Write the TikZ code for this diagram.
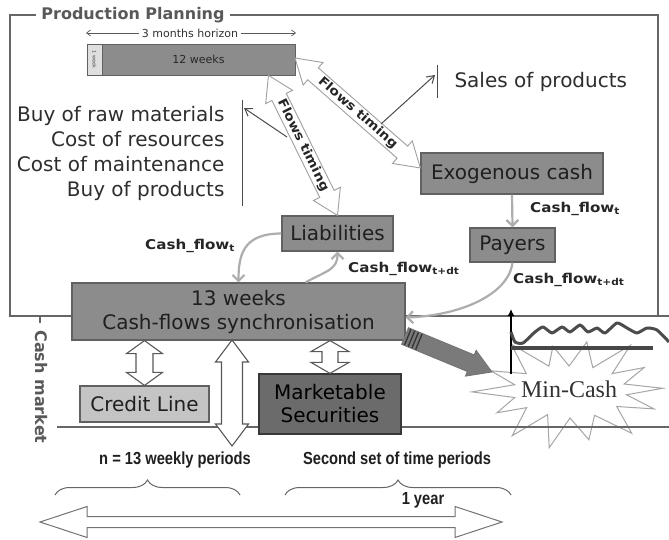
\documentclass[tikz,border=0pt]{standalone}
\usepackage{fontspec}
\setmainfont{DejaVu Sans}
\newfontfamily\mcfont{Liberation Serif}
\newfontfamily\narrowfont{Liberation Sans}[FakeStretch=0.84]
\newfontfamily\widefont{DejaVu Sans}[FakeStretch=1.12]
\usetikzlibrary{calc,decorations.pathreplacing,arrows.meta}

\definecolor{boxfill}{gray}{0.55}
\definecolor{boxline}{gray}{0.38}
\definecolor{credfill}{gray}{0.77}
\definecolor{mktfill}{gray}{0.42}
\definecolor{mktline}{gray}{0.22}
\definecolor{flowgray}{gray}{0.68}
\definecolor{framegray}{gray}{0.40}
\definecolor{titlegray}{gray}{0.35}

% hollow double-headed arrow between two points
\newcommand\hollowdbl[6][]{%
  \draw[#1] (#2)
   -- ($($(#2)!#6!(#3)$)!#5!90:(#3)$)
   -- ($($(#2)!#6!(#3)$)!#4!90:(#3)$)
   -- ($($(#3)!#6!(#2)$)!#4!-90:(#2)$)
   -- ($($(#3)!#6!(#2)$)!#5!-90:(#2)$)
   -- (#3)
   -- ($($(#3)!#6!(#2)$)!#5!90:(#2)$)
   -- ($($(#3)!#6!(#2)$)!#4!90:(#2)$)
   -- ($($(#2)!#6!(#3)$)!#4!-90:(#3)$)
   -- ($($(#2)!#6!(#3)$)!#5!-90:(#3)$)
   -- cycle;}
% filled single-headed arrow, tip at the second point
\newcommand\fatsingle[6][]{%
  \draw[#1] ($(#2)!#4!90:(#3)$)
   -- ($($(#3)!#6!(#2)$)!#4!-90:(#2)$)
   -- ($($(#3)!#6!(#2)$)!#5!-90:(#2)$)
   -- (#3)
   -- ($($(#3)!#6!(#2)$)!#5!90:(#2)$)
   -- ($($(#3)!#6!(#2)$)!#4!90:(#2)$)
   -- ($(#2)!#4!-90:(#3)$)
   -- cycle;}

\begin{document}
\begin{tikzpicture}[x=1pt,y=-1pt,
  frame/.style={draw=framegray,line width=1.3pt},
  box/.style={draw=boxline,fill=boxfill,line width=1.2pt,inner sep=0pt,
    text=black!88,align=center,font=\fontsize{20}{24}\selectfont},
  plain/.style={text=black!82,font=\fontsize{20}{25}\selectfont},
  cflbl/.style={anchor=west,inner sep=0pt,text=black!85,
    font=\widefont\bfseries\fontsize{13.5}{16}\selectfont},
  flowlbl/.style={inner sep=0pt,text=black!85,
    font=\widefont\bfseries\fontsize{12.5}{15}\selectfont},
  cfarrow/.style={draw=flowgray,line width=2.2pt,
    -{Straight Barb[length=6pt,width=12pt]}},
  thinarrow/.style={draw=black!70,line width=1pt,
    -{Straight Barb[length=7pt,width=9pt]}},
  flowfat/.style={draw=gray!75,fill=white,line width=0.9pt,line join=miter},
  vfat/.style={draw=black!65,fill=white,line width=1.1pt},
  bottomlbl/.style={text=black!88,font=\narrowfont\bfseries\fontsize{17.5}{20}\selectfont},
  burst/.style={draw=gray!70,fill=white,line width=1pt,line join=miter},
]
\useasboundingbox[fill=white] (0,0) rectangle (669,540);

% ---- frames of the two layers
\draw[frame] (10,15) rectangle (658,316);
\draw[frame] (658,316) -- (669,316);
\draw[frame] (40,316) -- (40,323);
\node[fill=white,inner xsep=5pt,inner ysep=1pt,text=titlegray,
  font=\bfseries\fontsize{16}{18}\selectfont] (title) at (133,15) {Production Planning};
\node[rotate=-90,text=titlegray,font=\bfseries\fontsize{16}{18}\selectfont]
  (cashmkt) at (41,387) {Cash market};

% ---- minimum cash burst and cash level sketch
\coordinate (mc) at (570,391);
\draw[burst,shift={(mc)}]
  (3:93pt and 52pt) -- (15:56pt and 27pt) -- (28:84pt and 50pt)
  -- (40:55pt and 27pt) -- (52:98pt and 58pt) -- (64:52pt and 26pt)
  -- (79:88pt and 50pt) -- (91:52pt and 25pt) -- (103:76pt and 46pt)
  -- (113:54pt and 27pt) -- (126:100pt and 58pt) -- (140:57pt and 27pt)
  -- (154:88pt and 46pt) -- (166:57pt and 26pt) -- (181:98pt and 52pt)
  -- (194:57pt and 27pt) -- (207:82pt and 48pt) -- (218:55pt and 27pt)
  -- (233:96pt and 56pt) -- (245:53pt and 26pt) -- (258:100pt and 58pt)
  -- (270:54pt and 27pt) -- (283:84pt and 50pt) -- (296:56pt and 27pt)
  -- (311:94pt and 56pt) -- (325:57pt and 27pt) -- (339:90pt and 50pt)
  -- (352:57pt and 27pt) -- cycle;
\node[text=black!80,font=\mcfont\fontsize{24}{26}\selectfont] (mincash) at (569,389) {Min-Cash};
\coordinate (ax0) at (511,374);
\coordinate (ax1) at (511,309);
\draw[line width=1.4pt,-{Latex[length=7pt,width=7pt]}] (ax0) -- (ax1);
\draw[line width=4pt,draw=black!72] (511,348) -- (653,348);
\draw[line width=3pt,draw=black!70,line join=round] plot[smooth,tension=0.35] coordinates {
  (511,332) (515,342) (523,343) (535,332) (543,327) (552,333) (562,327)
  (570,332) (580,325) (588,332) (597,328) (605,333) (617,323) (627,328)
  (637,333) (647,328) (657,330) (669,342)};
\draw[frame] (57,427) -- (669,427);

% ---- planning horizon bar
\coordinate (hl) at (86,33);
\coordinate (hr) at (296,33);
\draw[draw=black!65,line width=0.7pt,{Straight Barb[length=4pt,width=6pt]}-{Straight Barb[length=4pt,width=6pt]}] (hl) -- (hr);
\node[fill=white,inner xsep=3pt,inner ysep=0pt,text=black!80,
  font=\fontsize{11}{12}\selectfont] (horizon) at (190,33) {3 months horizon};
\node[draw=boxline,fill=gray!25,line width=0.8pt,minimum width=15pt,
  minimum height=31pt,inner sep=0pt] (wk1) at (94.5,59.5) {};
\node[rotate=-90,text=black!70,font=\fontsize{5}{6}\selectfont,inner sep=0pt]
  (wk1txt) at (wk1.center) {1 week};
\node[draw=boxline,fill=boxfill,line width=0.8pt,minimum width=193pt,
  minimum height=31pt,inner sep=0pt,text=black!85,
  font=\fontsize{11}{12}\selectfont] (wk12) at (198.5,59.5) {12 weeks};

% ---- cash nodes
\node[box,minimum width=182pt,minimum height=41pt] (exo) at (512,173.5) {Exogenous cash};
\node[box,minimum width=85pt,minimum height=34pt] (payers) at (512.5,245) {Payers};
\node[box,minimum width=111pt,minimum height=35pt] (liab) at (337.5,233.5) {Liabilities};
\node[box,minimum width=333pt,minimum height=57pt,font=\fontsize{20}{24}\selectfont]
  (sync) at (238.5,311.5) {13 weeks\\Cash-flows synchronisation};
\node[box,fill=credfill,minimum width=129pt,minimum height=36pt] (credit) at (144.5,404) {Credit Line};
\node[box,fill=mktfill,draw=mktline,minimum width=142pt,minimum height=60pt,
  font=\fontsize{20}{23}\selectfont,text=black] (mkt) at (330,404) {Marketable\\Securities};

% ---- plain texts
\node[plain,anchor=west] (sales) at (451,82) {Sales of products};
\node[plain,align=right,anchor=east] (costs) at (228,153)
  {Buy of raw materials\\Cost of resources\\Cost of maintenance\\Buy of products};

% ---- flows timing arrows
\coordinate (fa1s) at (295,58);
\coordinate (fa1e) at ([yshift=5.5pt]exo.west);
\coordinate (fa2s) at ([xshift=70pt]wk12.south);
\coordinate (fa2e) at (liab.north);
\hollowdbl[flowfat]{fa1s}{fa1e}{8pt}{15pt}{24pt}
\hollowdbl[flowfat]{fa2s}{fa2e}{8pt}{15pt}{24pt}
\path (fa1s) -- (fa1e) node[midway,sloped,flowlbl] (ft1) {Flows timing};
\path (fa2s) -- (fa2e) node[midway,sloped,flowlbl] (ft2) {Flows timing};

% ---- links to the income and cost lists
\coordinate (s0) at (381,124);
\coordinate (s1) at (435,75);
\coordinate (st) at (437,65);
\coordinate (sb) at (437,98);
\draw[thinarrow] (s0) -- (s1);
\draw[draw=black!70,line width=1pt] (st) -- (sb);
\coordinate (c0) at (287,137);
\coordinate (c1) at (244,108);
\coordinate (ct) at (242,100);
\coordinate (cb) at (242,206);
\draw[thinarrow] (c0) -- (c1);
\draw[draw=black!70,line width=1pt] (ct) -- (cb);

% ---- cash flows
\draw[cfarrow] (exo.south) -- (payers.north);
\draw[cfarrow] (payers.south) .. controls +(-4,32) and +(55,-2) .. ([yshift=-6pt]sync.east);
\draw[cfarrow] (liab.west) .. controls +(-38,0) and +(0,-28) .. (sync.north);
\draw[cfarrow] ([xshift=67pt]sync.north) .. controls +(22,-12) and +(0,18) .. (liab.south);
\node[cflbl] (cf1) at (530,209) {Cash\_flow\textsubscript{t}};
\node[cflbl] (cf2) at (513,280) {Cash\_flow\textsubscript{t+dt}};
\node[cflbl] (cf3) at (145,246) {Cash\_flow\textsubscript{t}};
\node[cflbl] (cf4) at (348,269) {Cash\_flow\textsubscript{t+dt}};

% ---- links to the cash market
\coordinate (va) at (credit.north |- sync.south);
\coordinate (vb1) at (232,340);
\coordinate (vb2) at (232,446);
\coordinate (vc) at (mkt.north |- sync.south);
\hollowdbl[vfat]{va}{credit.north}{8.5pt}{18pt}{13pt}
\hollowdbl[vfat]{vb1}{vb2}{10.5pt}{16.5pt}{22pt}
\hollowdbl[vfat]{vc}{mkt.north}{8pt}{19pt}{11pt}

% ---- arrow to the minimum cash
\coordinate (ga) at (405,336);
\coordinate (gb) at (492,372);
\fatsingle[draw=black!55,fill=black!52,line width=0.8pt]{ga}{gb}{9pt}{14pt}{23pt}
\foreach \d in {3pt,7pt,11pt,15pt}
  \draw[draw=black!80,line width=1.3pt]
    ($($(ga)!\d!(gb)$)!8.5pt!90:(gb)$) -- ($($(ga)!\d!(gb)$)!8.5pt!-90:(gb)$);

% ---- time scale
\node[bottomlbl] (weekly) at (175,460) {n = 13 weekly periods};
\node[bottomlbl] (second) at (397,460) {Second set of time periods};
\coordinate (b1a) at (55,495);
\coordinate (b1b) at (240,495);
\coordinate (b2a) at (285,495);
\coordinate (b2b) at (511,495);
\draw[draw=black!60,line width=1pt,decorate,decoration={brace,amplitude=15pt}] (b1a) -- (b1b);
\draw[draw=black!60,line width=1pt,decorate,decoration={brace,amplitude=15pt}] (b2a) -- (b2b);
\coordinate (ya) at (40,522);
\coordinate (yb) at (502,522);
\hollowdbl[draw=black!55,fill=white,line width=1pt]{ya}{yb}{5.5pt}{15.5pt}{47pt}
\node[bottomlbl] (year) at (423,500) {1 year};
\end{tikzpicture}
\end{document}
